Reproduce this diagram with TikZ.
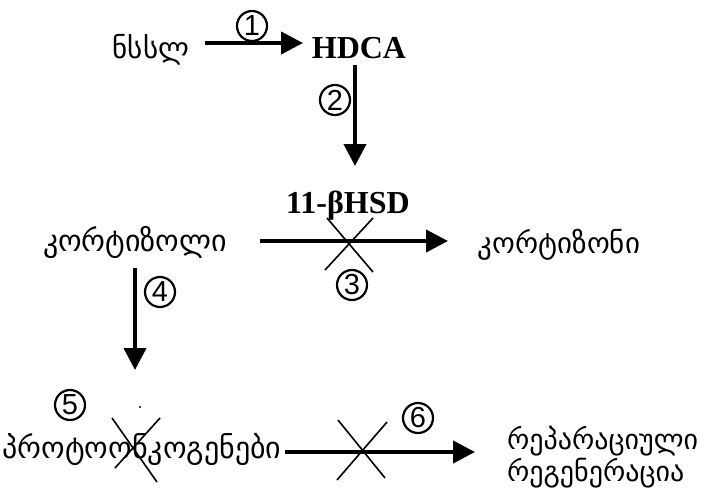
\documentclass[tikz,border=0pt]{standalone}
\usepackage{fontspec}
\setmainfont{Liberation Serif}
\newfontfamily\geo{DejaVu Sans}
\newfontfamily\numfont{Liberation Sans}
\usetikzlibrary{arrows.meta}
\tikzset{
  geotext/.style={font=\geo\fontsize{29}{29}\selectfont, inner sep=0pt, anchor=base},
  boldtext/.style={font=\bfseries\fontsize{32}{32}\selectfont, inner sep=0pt, anchor=base},
  flow/.style={line width=4pt, -{Triangle[length=22pt,width=22pt]}},
  cross/.style={line width=1.6pt},
  stepnum/.style={circle, draw, line width=2.2pt, minimum size=30pt, inner sep=0pt,
                  font=\numfont\fontsize{29}{29}\selectfont},
}
\begin{document}
\begin{tikzpicture}[x=1pt, y=-1pt]
  \useasboundingbox (0,0) rectangle (704,499);

  % substances
  \node[geotext] (nssl) at (151,58) {ნსსლ};
  \node[boldtext] (hdca) at (359,58) {HDCA};
  \node[boldtext] (hsd) at (348,213) {11-βHSD};
  \node[geotext, font=\geo\fontsize{30}{30}\selectfont] (cortisol) at (135,251) {კორტიზოლი};
  \node[geotext] (cortisone) at (559,253) {კორტიზონი};
  \node[geotext, font=\geo\fontsize{30}{30}\selectfont] (proto) at (142,458) {პროტოონკოგენები};
  \node[geotext, font=\geo\fontsize{28}{28}\selectfont, anchor=base west] (repair) at (507,449) {რეპარაციული};
  \node[geotext, font=\geo\fontsize{28}{28}\selectfont, anchor=base west] (regen) at (507,481) {რეგენერაცია};

  % arrow end points
  \coordinate (a1s) at (205,43);  \coordinate (a1e) at (303,43);
  \coordinate (a2s) at (355,65);  \coordinate (a2e) at (355,166);
  \coordinate (a3s) at (260,241); \coordinate (a3e) at (448,241);
  \coordinate (a4s) at (135,268); \coordinate (a4e) at (135,370);
  \coordinate (a6s) at (285,452); \coordinate (a6e) at (475,452);

  \draw[flow] (a1s) -- (a1e);
  \draw[flow] (a2s) -- (a2e);
  \draw[flow] (a3s) -- (a3e);
  \draw[flow] (a4s) -- (a4e);
  \draw[flow] (a6s) -- (a6e);

  % blocked steps
  \draw[cross] (327,218) -- (373,272) (373,218) -- (325,270);
  \draw[cross] (112,418) -- (157,482) (160,418) -- (115,468);
  \draw[cross] (338,420) -- (385,478) (387,422) -- (337,480);
  \fill (140,407) circle (1.1pt);

  % step numbers
  \node[stepnum] (n1) at (252,26) {1};
  \node[stepnum] (n2) at (335,100) {2};
  \node[stepnum] (n3) at (352,285) {3};
  \node[stepnum] (n4) at (160,292) {4};
  \node[stepnum] (n5) at (70,405) {5};
  \node[stepnum] (n6) at (418,418) {6};
\end{tikzpicture}
\end{document}
